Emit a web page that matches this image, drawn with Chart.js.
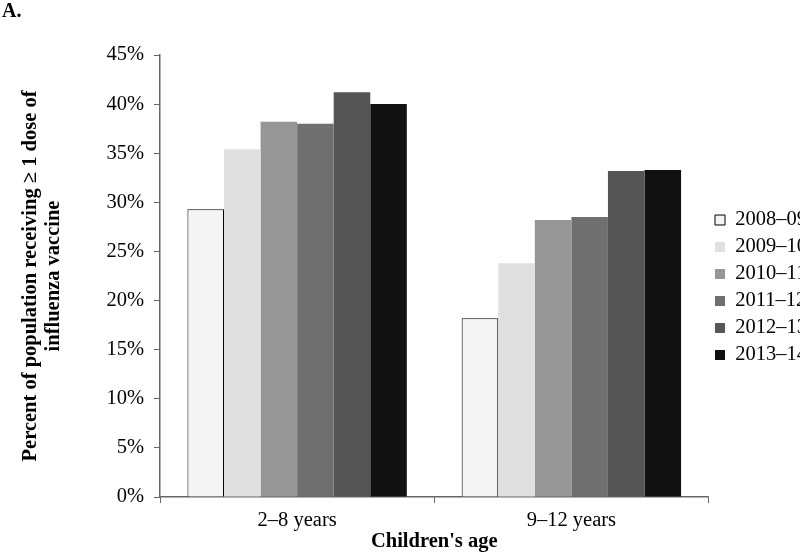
<!DOCTYPE html>
<html><head><meta charset="utf-8">
<script src="https://cdn.jsdelivr.net/npm/chart.js@4"></script>
<style>html,body{margin:0;padding:0;background:#fff}#wrap{width:800px;height:553px}</style>
</head><body><div id="wrap"><canvas id="c" width="800" height="553"></canvas></div>
<script>
const categories = ['2\u20138 years', '9\u201312 years'];
const seasons = ['2008\u201309', '2009\u201310', '2010\u201311', '2011\u201312', '2012\u201313', '2013\u201314'];
const s2008 = [29.3, 18.2];
const s2009 = [35.4, 23.8];
const s2010 = [38.2, 28.2];
const s2011 = [38.0, 28.5];
const s2012 = [41.2, 33.2];
const s2013 = [40.0, 33.3];
const yTicks = [0, 5, 10, 15, 20, 25, 30, 35, 40, 45];

const seriesValues = [s2008, s2009, s2010, s2011, s2012, s2013];
const fills = ['#f4f4f4', '#e0e0e0', '#969696', '#6f6f6f', '#555555', '#111111'];
const serif = "'Liberation Serif', 'Times New Roman', serif";
const FS = 20.5;

const datasets = seasons.map((s, i) => ({
  label: s,
  data: seriesValues[i],
  backgroundColor: fills[i],
  borderColor: i === 0 ? '#000' : fills[i],
  borderWidth: i === 0 ? 1 : 0,
  categoryPercentage: 0.8,
  barPercentage: 1.0
}));

new Chart(document.getElementById('c'), {
  type: 'bar',
  data: { labels: categories, datasets },
  options: {
    responsive: false,
    animation: false,
    devicePixelRatio: 1,
    layout: { padding: { left: 2, top: 0, bottom: 0, right: -17 } },
    plugins: {
      title: {
        display: true, text: 'A.', align: 'start', color: '#000',
        font: { family: serif, size: 20, weight: 'bold', lineHeight: 1.2 },
        padding: { top: 0, bottom: 31 }
      },
      legend: {
        position: 'right',
        title: { display: true, text: ' ', font: { size: 10, lineHeight: 1.2 }, padding: 5 },
        labels: {
          boxWidth: 10, boxHeight: 10, padding: 6.5, color: '#000',
          font: { family: serif, size: FS }
        }
      },
      tooltip: { enabled: false }
    },
    scales: {
      x: {
        grid: { display: true, drawOnChartArea: false, offset: true, tickLength: 6, color: '#666' },
        border: { color: '#666', width: 1.5 },
        ticks: { color: '#000', font: { family: serif, size: FS }, padding: 5 },
        title: { display: true, text: "Children's age", color: '#000', font: { family: serif, size: FS, weight: 'bold', lineHeight: 1.1 }, padding: { top: 0, bottom: 0 } },
        afterFit: (s) => { s.height = 56; }
      },
      y: {
        min: 0, max: 45,
        afterBuildTicks: (s) => { s.ticks = yTicks.map(v => ({ value: v })); },
        grid: { display: true, drawOnChartArea: false, tickLength: 6, color: '#666' },
        border: { color: '#666', width: 1.5 },
        ticks: { color: '#000', font: { family: serif, size: FS }, padding: 10, callback: (v) => v + '%' },
        title: { display: true, text: ['Percent of population receiving \u2265 1 dose of', 'influenza vaccine'], color: '#000', font: { family: serif, size: FS, weight: 'bold', lineHeight: 1.08 }, padding: { top: 18, bottom: 0 } },
        afterFit: (s) => { s.width = 158; }
      }
    }
  }
});
</script></body></html>
